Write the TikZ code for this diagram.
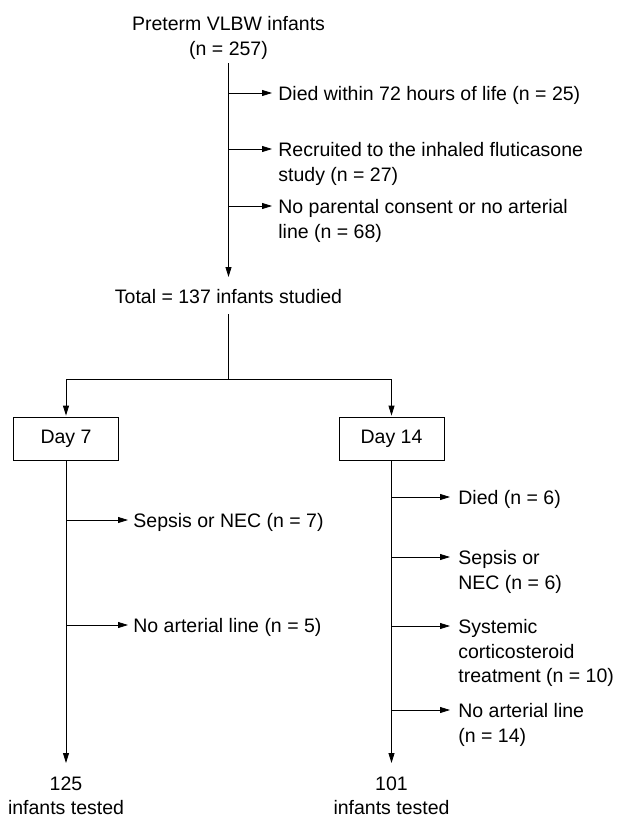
\documentclass[tikz,border=0pt]{standalone}
\usepackage{fontspec}
\setmainfont{Liberation Sans}
\usetikzlibrary{arrows.meta}
\begin{document}
\begin{tikzpicture}[x=1pt, y=-1pt, line width=0.8pt,
    txt/.style={inner sep=0pt, font=\fontsize{19.5}{24.5}\selectfont, align=left, anchor=north west},
    mid/.style={inner sep=0pt, font=\fontsize{19.5}{24.5}\selectfont, align=center, anchor=north},
    daybox/.style={draw, inner sep=0pt, minimum width=105pt, minimum height=43pt, font=\fontsize{19.5}{24.5}\selectfont},
    arr/.style={-{Triangle[length=10pt,width=6pt]}}]
    \useasboundingbox (0,0) rectangle (617,818);
    % 主节点
    \node[mid] (start) at (228.5,16) {Preterm VLBW infants\\(n = 257)};
    \node[mid] (total) at (228.5,289) {Total = 137 infants studied};
    \node[daybox] (d7) at (66,438.5) {Day 7};
    \node[daybox] (d14) at (391.5,438.5) {Day 14};
    \node[mid] (end7) at (66,776) {125\\infants tested};
    \node[mid] (end14) at (391.5,776) {101\\infants tested};
    % 排除
    \node[txt] (ex1) at (278,86) {Died within 72 hours of life (n = 25)};
    \node[txt] (ex2) at (278,142) {Recruited to the inhaled fluticasone\\study (n = 27)};
    \node[txt] (ex3) at (278,199) {No parental consent or no arterial\\line (n = 68)};
    \node[txt] (ls1) at (133,513) {Sepsis or NEC (n = 7)};
    \node[txt] (ls2) at (133,618) {No arterial line (n = 5)};
    \node[txt] (rs1) at (458,490) {Died (n = 6)};
    \node[txt] (rs2) at (458,550) {Sepsis or\\NEC (n = 6)};
    \node[txt] (rs3) at (458,619) {Systemic\\corticosteroid\\treatment (n = 10)};
    \node[txt] (rs4) at (458,703) {No arterial line\\(n = 14)};
    % 分支点
    \coordinate (b1) at (228.5,93);
    \coordinate (b2) at (228.5,149);
    \coordinate (b3) at (228.5,206);
    \coordinate (split) at (228.5,379);
    \coordinate (l1) at (66,520);
    \coordinate (l2) at (66,625);
    \coordinate (r1) at (391.5,497);
    \coordinate (r2) at (391.5,557);
    \coordinate (r3) at (391.5,626);
    \coordinate (r4) at (391.5,710);
    % 连线
    \draw[arr, shorten <=4pt, shorten >=12pt] (start.south) -- (total.north);
    \draw[arr, shorten >=6pt] (b1) -- (b1 -| ex1.west);
    \draw[arr, shorten >=6pt] (b2) -- (b2 -| ex2.west);
    \draw[arr, shorten >=6pt] (b3) -- (b3 -| ex3.west);
    \draw[shorten <=10pt] (total.south) -- (split);
    \draw[arr, shorten >=1pt] (split) -| (d7.north);
    \draw[arr, shorten >=1pt] (split) -| (d14.north);
    \draw[arr, shorten >=13pt] (d7.south) -- (end7.north);
    \draw[arr, shorten >=13pt] (d14.south) -- (end14.north);
    \draw[arr, shorten >=5pt] (l1) -- (l1 -| ls1.west);
    \draw[arr, shorten >=5pt] (l2) -- (l2 -| ls2.west);
    \draw[arr, shorten >=8pt] (r1) -- (r1 -| rs1.west);
    \draw[arr, shorten >=8pt] (r2) -- (r2 -| rs2.west);
    \draw[arr, shorten >=8pt] (r3) -- (r3 -| rs3.west);
    \draw[arr, shorten >=8pt] (r4) -- (r4 -| rs4.west);
\end{tikzpicture}
\end{document}
